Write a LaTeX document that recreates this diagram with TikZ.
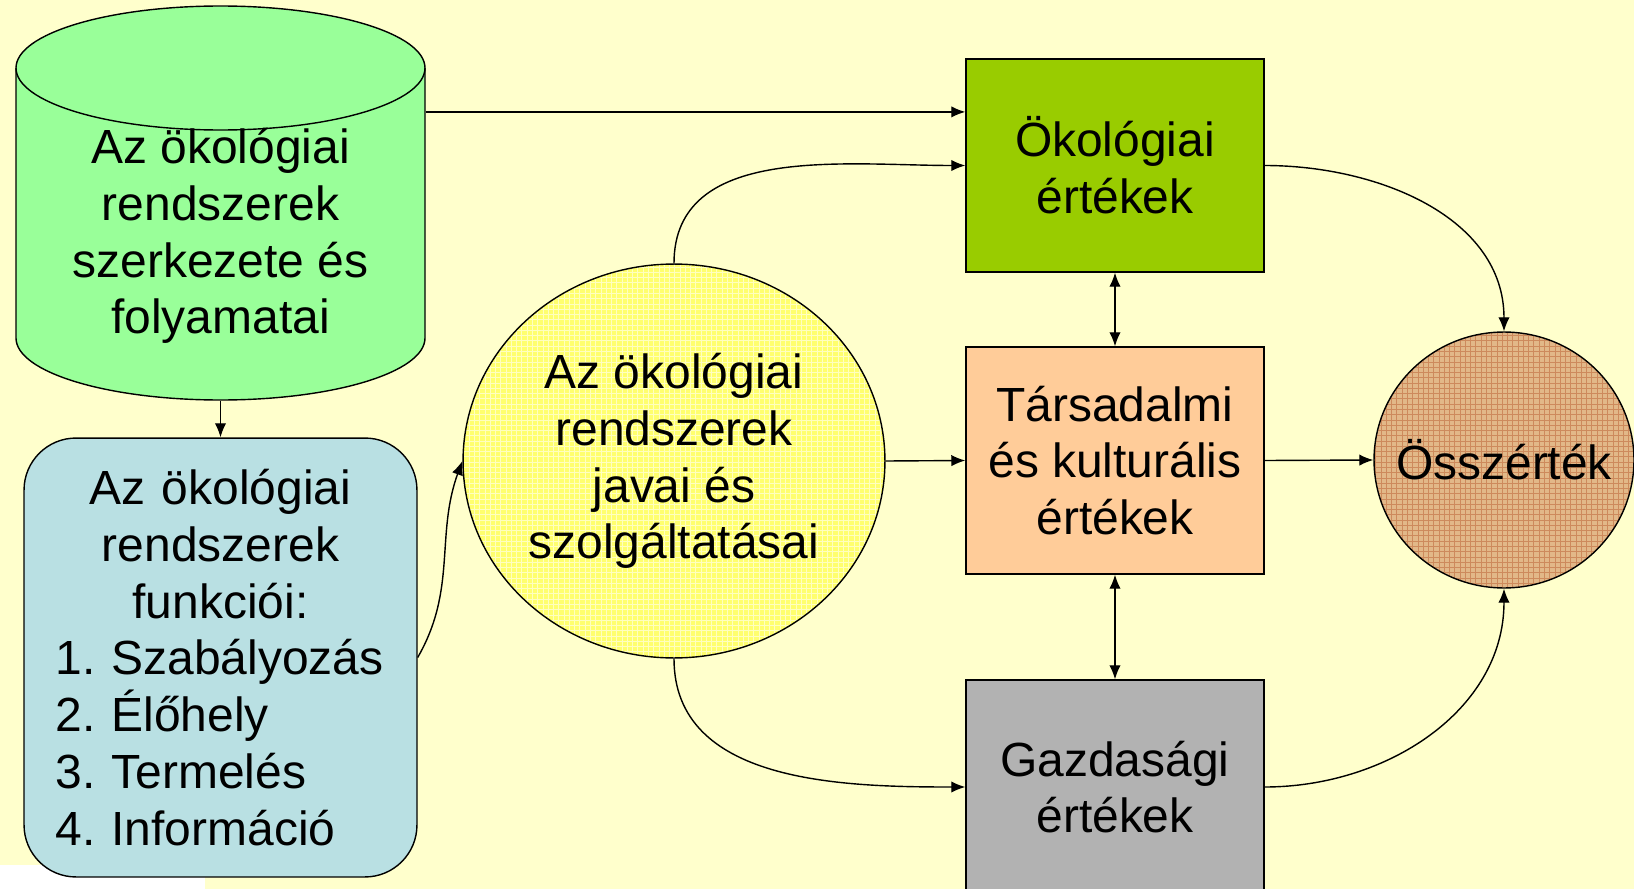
\documentclass[tikz,border=0pt]{standalone}
\usepackage{fontspec}
\setmainfont{Liberation Sans}
\usetikzlibrary{arrows.meta,positioning,calc,shapes.geometric,patterns}

\definecolor{bgyellow}{HTML}{FFFFCC}
\definecolor{cylgreen}{HTML}{99FF99}
\definecolor{funcblue}{HTML}{B9E0E3}
\definecolor{servyellow}{HTML}{FFFF6E}
\definecolor{ecogreen}{HTML}{99CC00}
\definecolor{socorange}{HTML}{FFCC99}
\definecolor{econgray}{HTML}{B2B2B2}
\definecolor{totbrown}{HTML}{E2B888}
\definecolor{totgrid}{HTML}{CD8A5C}

\begin{document}
\begin{tikzpicture}[x=0.02cm, y=-0.02cm,
            every node/.style={draw, thick, inner sep=0pt,
                               font=\fontsize{27.3}{32.3}\selectfont},
            value/.style={rectangle, minimum width=5.96cm, align=center},
            conn/.style={thick, -{Latex[length=8pt,width=6.5pt]}},
            bothconn/.style={thick, {Latex[length=8pt,width=6.5pt]}-{Latex[length=8pt,width=6.5pt]}}]
        % background
        \fill[bgyellow] (0,0) rectangle (1634,889);
        \fill[white] (0,865) rectangle (205,889);
        \useasboundingbox (0,0) rectangle (1634,889);

        % left column: the cylinder is drawn by hand
        \path[fill=cylgreen, draw, thick] (16,68) -- (16,338)
              arc[start angle=180, end angle=0, x radius=204.5, y radius=62] -- (425,68)
              arc[start angle=0, end angle=-180, x radius=204.5, y radius=62] -- cycle;
        \draw[thick] (16,68) arc[start angle=180, end angle=0, x radius=204.5, y radius=62];
        \node[draw=none, minimum width=8.18cm, minimum height=6.56cm, align=center]
              (cyl) at (220.5,236) {Az ökológiai\\ rendszerek\\ szerkezete és\\ folyamatai};
        \node[rectangle, rounded corners=1.04cm, fill=funcblue,
              minimum width=7.86cm, minimum height=8.78cm,
              text width=6.6cm, align=left]
              (funk) at (220.5,657.5) {\frenchspacing\hyphenpenalty=10000
              {\centering Az ökológiai\\ rendszerek\\ funkciói:\par}
              1. Szabályozás\\ 2. Élőhely\\ 3. Termelés\\ 4. Információ};

        % goods and services
        \node[ellipse, minimum width=8.44cm, minimum height=7.88cm, align=center,
              preaction={fill=servyellow}, pattern=grid, pattern color=yellow!25!white]
              (serv) at (674,461) {Az ökológiai\\ rendszerek\\ javai és\\ szolgáltatásai};

        % values
        \node[value, fill=ecogreen, minimum height=4.26cm] (okol) at (1115,165.5) {Ökológiai\\ értékek};
        \node[value, fill=socorange, minimum height=4.54cm] (tars) at (1115,460.5) {Társadalmi\\ és kulturális\\ értékek};
        \node[value, fill=econgray, minimum height=4.28cm] (gazd) at (1115,787) {Gazdasági\\ értékek};
        \node[ellipse, minimum width=5.2cm, minimum height=5.12cm,
              preaction={fill=totbrown}, pattern=grid, pattern color=totgrid]
              (ossz) at (1504,460) {\makebox[0pt]{Összérték}};

        \coordinate (okin) at ($(okol.north west)!0.25!(okol.south west)$);

        % connectors
        \draw[conn] (cyl.east |- okin) -- (okin);
        \draw[conn] (cyl.south) -- (funk.north);
        \draw[conn] (funk.east) to[out=60, in=250] (serv.west);
        \draw[conn] (serv.north) to[out=90, in=180] (okol.west);
        \draw[conn] (serv.east) -- (tars.west);
        \draw[conn] (serv.south) to[out=-90, in=180] (gazd.west);
        \draw[bothconn] (okol.south) -- (tars.north);
        \draw[bothconn] (tars.south) -- (gazd.north);
        \draw[conn] (okol.east) to[out=0, in=90] (ossz.north);
        \draw[conn] (tars.east) -- (ossz.west);
        \draw[conn] (gazd.east) to[out=0, in=-90] (ossz.south);
\end{tikzpicture}
\end{document}
